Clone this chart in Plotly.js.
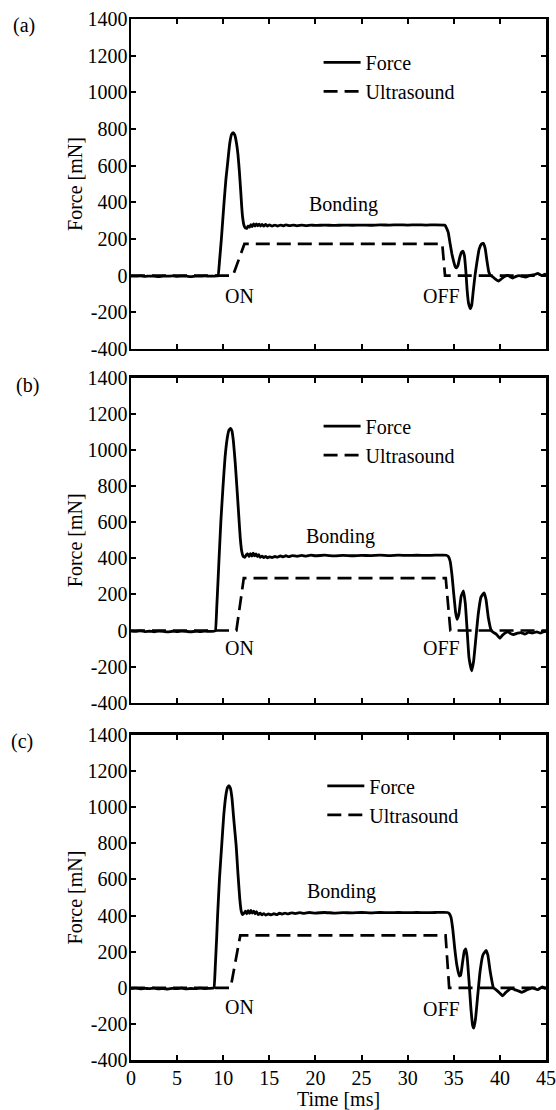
<!DOCTYPE html>
<html>
<head>
<meta charset="utf-8">
<script src="https://cdn.plot.ly/plotly-3.0.1.min.js"></script>
<style>
  html, body { margin: 0; padding: 0; background: #fff; }
  #chart { width: 556px; height: 1110px; }
</style>
</head>
<body>
<div id="chart"></div>
<script>
// Time axis ticks [ms]
const xTickVals = [0, 5, 10, 15, 20, 25, 30, 35, 40, 45];
const xTickText = ['0', '5', '10', '15', '20', '25', '30', '35', '40', '45'];
// Force axis ticks [mN]
const yTickVals = [-400, -200, 0, 200, 400, 600, 800, 1000, 1200, 1400];
const yTickText = ['-400', '-200', '0', '200', '400', '600', '800', '1000', '1200', '1400'];

// Panel (a): measured force
const forceA_t = [0, 0.5, 1, 1.5, 2, 2.5, 3, 3.5, 4, 4.5, 5, 5.5, 6, 6.5, 7, 7.5, 8, 8.5, 9, 9.3,
  9.44, 9.6, 9.8, 10.09, 10.3, 10.45, 10.7, 10.9, 11.07, 11.25, 11.45, 11.6, 11.75, 11.9, 12.0, 12.1, 12.25,
  12.4, 12.55, 12.7, 12.85, 13.0, 13.15, 13.3, 13.45, 13.6, 13.75, 13.9, 14.05, 14.2, 14.4, 14.6, 14.8,
  15.0, 15.3, 15.6, 15.9, 16.2, 16.5, 16.8, 17.2, 17.6, 18, 18.5, 19, 19.5, 20, 21, 22, 23, 24, 25, 26,
  27, 28, 29, 30, 31, 32, 33, 34.0, 34.1, 34.25, 34.4, 34.6, 34.8, 35.0, 35.15, 35.3, 35.45, 35.65,
  35.85, 36.0, 36.15, 36.3, 36.45, 36.6, 36.8, 36.95, 37.1, 37.3, 37.5, 37.75, 38.0, 38.2, 38.4, 38.6,
  38.8, 39.0, 39.2, 39.5, 39.85, 40.1, 40.4, 40.7, 40.9, 41.15, 41.4, 41.7, 42.1, 42.4, 42.8, 43.2,
  43.6, 43.9, 44.1, 44.35, 44.6, 44.8, 45];
const forceA_v = [-2, -3, -1, -4, -2, -3, -5, -2, -3, -1, -4, -2, -3, -5, -2, -3, -1, -3, -2, -1,
  0, 80, 200, 400, 530, 600, 720, 770, 780, 768, 720, 660, 570, 460, 380, 320, 275,
  260, 258, 270, 265, 278, 268, 282, 270, 283, 272, 281, 271, 280, 270, 279, 270,
  277, 270, 276, 271, 276, 272, 277, 273, 276, 272, 276, 273, 276, 274, 276, 274, 276, 275, 276, 275,
  277, 276, 277, 276, 277, 276, 277, 276, 272, 255, 236, 175, 118, 75, 50, 42, 55, 100,
  128, 133, 110, 30, -80, -150, -180, -160, -90, 0, 70, 145, 172, 176, 150, 80,
  20, 0, -5, -18, -30, -20, -8, 0, 2, -8, -13, -5, 0, -4, -8, 0,
  4, 8, 13, 5, 0, 6, 8];
// Panel (a): ultrasound drive
const ultraA_t = [0, 11.05, 12.3, 33.75, 34.05, 45];
const ultraA_v = [0, 0, 173, 173, 0, 0];

// Panel (b): measured force
const forceB_t = [0, 0.5, 1, 1.5, 2, 2.5, 3, 3.5, 4, 4.5, 5, 5.5, 6, 6.5, 7, 7.5, 8, 8.5, 9, 9.15,
  9.3, 9.45, 9.55, 9.75, 9.98, 10.2, 10.45, 10.62, 10.8, 10.95, 11.1, 11.3, 11.5, 11.7, 11.85, 12.0,
  12.15, 12.34, 12.5, 12.65, 12.8, 12.95, 13.1, 13.25, 13.4, 13.55, 13.7, 13.85, 14.0, 14.2, 14.4, 14.6,
  14.8, 15.0, 15.3, 15.6, 15.9, 16.2, 16.5, 16.8, 17.1, 17.5, 18, 18.5, 19, 19.5, 20, 21, 22, 23, 24,
  25, 26, 27, 28, 29, 30, 31, 32, 33, 34.2, 34.4, 34.6, 34.8, 35.0, 35.2, 35.36, 35.55, 35.8, 36.05,
  36.25, 36.45, 36.65, 36.94, 37.15, 37.4, 37.65, 37.95, 38.29, 38.5, 38.75, 39.06, 39.3, 39.6, 40.0,
  40.3, 40.6, 40.9, 41.2, 41.5, 41.9, 42.3, 42.7, 43.1, 43.5, 44, 44.4, 44.8, 45];
const forceB_v = [-3, -5, -2, -6, -4, -7, -3, -5, -8, -4, -6, -3, -5, -7, -4, -6, -3, -5, -3, -1,
  130, 290, 400, 610, 800, 960, 1070, 1110, 1120, 1105, 1050, 930, 780, 625, 510, 440,
  412, 405, 418, 425, 410, 426, 412, 428, 413, 424, 410, 420, 405, 412, 404, 410,
  403, 408, 404, 410, 406, 413, 408, 414, 409, 415, 411, 416, 412, 417, 414, 417, 413, 416, 414,
  416, 415, 417, 415, 417, 416, 417, 416, 417, 417, 410, 385, 310, 200, 100, 62, 90, 190, 220,
  150, 0, -150, -223, -170, -40, 90, 185, 209, 170, 70, 0, -10, -20, -43,
  -25, -12, -8, -18, -22, -15, -12, -20, -10, -14, -8, -14, -6, -4];
// Panel (b): ultrasound drive
const ultraB_t = [0, 11.43, 12.23, 34.13, 34.63, 45];
const ultraB_v = [0, 0, 290, 290, 0, 0];

// Panel (c): measured force
const forceC_t = [0, 0.5, 1, 1.5, 2, 2.5, 3, 3.5, 4, 4.5, 5, 5.5, 6, 6.5, 7, 7.5, 8, 8.5, 8.9, 9.0,
  9.15, 9.3, 9.39, 9.6, 9.85, 10.05, 10.3, 10.47, 10.62, 10.78, 10.95, 11.15, 11.4, 11.6, 11.8, 11.95,
  12.09, 12.25, 12.4, 12.55, 12.7, 12.85, 13.0, 13.15, 13.3, 13.45, 13.6, 13.8, 14.0, 14.2, 14.4, 14.6,
  14.9, 15.2, 15.5, 15.8, 16.1, 16.4, 16.7, 17.0, 17.4, 17.8, 18.3, 18.8, 19.3, 20, 21, 22, 23, 24,
  25, 26, 27, 28, 29, 30, 31, 32, 33, 34.3, 34.5, 34.7, 34.9, 35.1, 35.35, 35.6, 35.75, 35.95, 36.15,
  36.3, 36.45, 36.65, 36.85, 37.05, 37.17, 37.35, 37.6, 37.85, 38.15, 38.5, 38.7, 38.95, 39.3, 39.6,
  40.0, 40.3, 40.6, 40.8, 41.3, 41.6, 41.9, 42.4, 43.0, 43.5, 44.1, 44.6, 45];
const forceC_v = [-4, -2, -6, -3, -5, -2, -6, -4, -7, -3, -5, -2, -6, -4, -5, -2, -4, -3, -2, 0,
  130, 290, 400, 610, 800, 950, 1070, 1110, 1120, 1105, 1050, 930, 790, 630, 490, 425,
  405, 412, 424, 410, 427, 412, 428, 413, 425, 410, 422, 405, 413, 404, 411, 403,
  409, 404, 410, 405, 413, 408, 414, 409, 415, 411, 416, 412, 417, 414, 417, 414, 416, 415,
  417, 415, 417, 416, 417, 416, 417, 416, 417, 417, 412, 390, 320, 220, 120, 65, 70, 140, 205,
  215, 170, 40, -110, -210, -224, -175, -40, 90, 180, 207, 180, 90, 0, -12,
  -30, -45, -28, -18, -3, -10, -15, -25, -10, 0, -10, 5, -5];
// Panel (c): ultrasound drive
const ultraC_t = [0, 10.8, 11.85, 34.11, 34.5, 45];
const ultraC_v = [0, 0, 290, 290, 0, 0];

const seriesNames = ['Force', 'Ultrasound'];
const panelLabels = ['(a)', '(b)', '(c)'];

const FONT = 'Liberation Serif';
const forceLine = { color: '#000', width: 2.8, shape: 'spline', smoothing: 0.35 };
const ultraLine = { color: '#000', width: 2.7, dash: '14px,7px' };

function forceTrace(t, v, xa, ya, legend) {
  return { x: t, y: v, xaxis: xa, yaxis: ya, legend: legend, name: seriesNames[0],
           type: 'scatter', mode: 'lines', line: forceLine, hoverinfo: 'skip' };
}
function ultraTrace(t, v, xa, ya, legend) {
  return { x: t, y: v, xaxis: xa, yaxis: ya, legend: legend, name: seriesNames[1],
           type: 'scatter', mode: 'lines', line: ultraLine, hoverinfo: 'skip' };
}

const data = [
  forceTrace(forceA_t, forceA_v, 'x', 'y', 'legend'),
  ultraTrace(ultraA_t, ultraA_v, 'x', 'y', 'legend'),
  forceTrace(forceB_t, forceB_v, 'x2', 'y2', 'legend2'),
  ultraTrace(ultraB_t, ultraB_v, 'x2', 'y2', 'legend2'),
  forceTrace(forceC_t, forceC_v, 'x3', 'y3', 'legend3'),
  ultraTrace(ultraC_t, ultraC_v, 'x3', 'y3', 'legend3')
];

const txtFont = { family: FONT, size: 20, color: '#000' };

function xAxis(anchor, withLabels) {
  const ax = {
    anchor: anchor, range: [0, 45], tickmode: 'array', tickvals: xTickVals, ticktext: xTickText,
    ticks: 'inside', ticklen: 5, tickwidth: 2, tickcolor: '#000',
    showline: true, linewidth: 2.5, linecolor: '#000', mirror: 'ticks',
    showgrid: false, zeroline: false, showticklabels: withLabels, ticklabelstandoff: -2,
    tickfont: txtFont, fixedrange: true
  };
  if (withLabels) {
    ax.title = { text: 'Time [ms]', font: txtFont, standoff: 0 };
  }
  return ax;
}
function yAxis(anchor, domain) {
  return {
    anchor: anchor, domain: domain, range: [-400, 1400], tickmode: 'array',
    tickvals: yTickVals, ticktext: yTickText,
    ticks: 'inside', ticklen: 5, tickwidth: 2, tickcolor: '#000',
    showline: true, linewidth: 2.5, linecolor: '#000', mirror: 'ticks',
    showgrid: false, zeroline: false, ticklabelstandoff: -3,
    tickfont: txtFont, fixedrange: true,
    title: { text: 'Force [mN]', font: txtFont, standoff: 0 }
  };
}
function legendBox(x, y) {
  return {
    x: x, y: y, xanchor: 'left', yanchor: 'top', bgcolor: 'rgba(0,0,0,0)',
    font: txtFont, tracegroupgap: 0, itemwidth: 37, itemclick: false
  };
}

function textNote(text, x, y, xref, yref) {
  return { text: text, x: x, y: y, xref: xref, yref: yref, showarrow: false,
           xanchor: 'center', yanchor: 'middle', font: txtFont };
}

const annotations = [
  textNote('Bonding', 23.0, 387, 'x', 'y'),
  textNote('ON', 11.8, -109, 'x', 'y'),
  textNote('OFF', 33.68, -109, 'x', 'y'),
  textNote('Bonding', 22.75, 519, 'x2', 'y2'),
  textNote('ON', 11.8, -99, 'x2', 'y2'),
  textNote('OFF', 33.66, -99, 'x2', 'y2'),
  textNote('Bonding', 22.87, 532, 'x3', 'y3'),
  textNote('ON', 11.76, -105, 'x3', 'y3'),
  textNote('OFF', 33.66, -115, 'x3', 'y3'),
  textNote(panelLabels[0], -0.258, 0.9942, 'paper', 'paper'),
  textNote(panelLabels[1], -0.25, 0.6484, 'paper', 'paper'),
  textNote(panelLabels[2], -0.262, 0.3058, 'paper', 'paper')
];

const layout = {
  width: 556, height: 1110,
  margin: { l: 131, r: 10, t: 19, b: 50, pad: 0 },
  paper_bgcolor: '#fff', plot_bgcolor: '#fff',
  font: txtFont,
  showlegend: true,
  xaxis: xAxis('y', false),
  xaxis2: xAxis('y2', false),
  xaxis3: xAxis('y3', true),
  yaxis: yAxis('x', [0.6830, 1.0]),
  yaxis2: yAxis('x2', [0.3432, 0.6554]),
  yaxis3: yAxis('x3', [0.0, 0.3122]),
  legend: legendBox(0.452, 0.977),
  legend2: legendBox(0.452, 0.6276),
  legend3: legendBox(0.461, 0.282),
  annotations: annotations
};

Plotly.newPlot('chart', data, layout, { staticPlot: true, displayModeBar: false });
</script>
</body>
</html>
